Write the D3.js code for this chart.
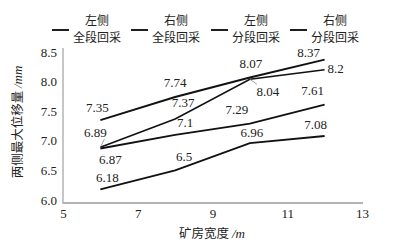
<!DOCTYPE html>
<html>
<head>
<meta charset="utf-8">
<script src="https://cdn.jsdelivr.net/npm/d3@7"></script>
<style>
  body { margin: 0; background: #fff; }
  svg { display: block; }
  .num { font-family: "Liberation Serif", "DejaVu Serif", serif; font-size: 13px; fill: #222; }
  .cjk { font-family: "Noto Sans CJK SC", sans-serif; font-size: 12.5px; fill: #222; }
  .leg { font-family: "Noto Sans CJK SC", sans-serif; font-size: 12px; fill: #222; }
</style>
</head>
<body>
<svg id="chart" width="393" height="245"></svg>
<script>
// chart data
const widths = [6, 8, 10, 12];
const seriesNames = [['左侧', '全段回采'], ['右侧', '全段回采'], ['左侧', '分段回采'], ['右侧', '分段回采']];
const leftFull = [7.35, 7.74, 8.07, 8.37];
const rightFull = [6.89, 7.37, 8.04, 8.2];
const leftSeg = [6.87, 7.1, 7.29, 7.61];
const rightSeg = [6.18, 6.5, 6.96, 7.08];
const xTicks = [5, 7, 9, 11, 13];
const yTicks = [6.0, 6.5, 7.0, 7.5, 8.0, 8.5];

// label offsets from the point (label centre), per series
const labelOffsets = [
  [[-3, -13], [0, -14], [1, -14], [-16, -7]],
  [[-5, -15], [8, -16], [18, 12], [11, -1]],
  [[10, 11], [10, -12], [-13, -14], [-12, -14]],
  [[7, -12], [9, -14], [2, -11], [-9, -12]]
];
// small pointer lines for crowded labels: [series, index, dx, dy]
const leaders = [[1, 0, 4, -8], [1, 2, 7, 5]];

const svg = d3.select('#chart');
const x = d3.scaleLinear().domain([5, 13]).range([63, 362]);
const y = d3.scaleLinear().domain([6, 8.5]).range([200, 52]);
const fmt = d3.format('.1f');

// axes
const axisColor = '#b3b3b3';
const gx = svg.append('g').attr('transform', 'translate(0,203)')
  .call(d3.axisBottom(x).tickValues(xTicks).tickSize(0).tickPadding(6).tickFormat(d3.format('d')));
gx.select('.domain').attr('d', 'M63,0H363').attr('stroke', axisColor).attr('stroke-width', 2);
gx.selectAll('text').attr('class', 'num').attr('font-family', null).attr('font-size', null);

const gy = svg.append('g').attr('transform', 'translate(63,0)')
  .call(d3.axisLeft(y).tickValues(yTicks).tickSize(0).tickPadding(6).tickFormat(fmt));
gy.select('.domain').attr('d', 'M0,48V204').attr('stroke', axisColor).attr('stroke-width', 1.5);
gy.selectAll('text').attr('class', 'num').attr('font-family', null).attr('font-size', null);

// axis titles
const xt = svg.append('text').attr('x', 212).attr('y', 238).attr('text-anchor', 'middle').attr('class', 'cjk');
xt.append('tspan').text('矿房宽度 ');
xt.append('tspan').attr('class', 'num').attr('font-style', 'italic').text('/m');

const yt = svg.append('text').attr('class', 'cjk').attr('text-anchor', 'middle')
  .attr('transform', 'translate(22,122) rotate(-90)');
yt.append('tspan').text('两侧最大位移量 ');
yt.append('tspan').attr('class', 'num').attr('font-style', 'italic').text('/mm');

// lines
const allSeries = [leftFull, rightFull, leftSeg, rightSeg];
const line = d3.line().x((d, i) => x(widths[i])).y(d => y(d));
svg.append('g').selectAll('path').data(allSeries).join('path')
  .attr('d', line)
  .attr('fill', 'none')
  .attr('stroke', '#111')
  .attr('stroke-width', (d, i) => (i === 1 ? 1.6 : 1.9));

// leader lines
leaders.forEach(([s, i, dx, dy]) => {
  const px = x(widths[i]);
  const py = y(allSeries[s][i]);
  svg.append('line')
    .attr('x1', px).attr('y1', py)
    .attr('x2', px + dx).attr('y2', py + dy)
    .attr('stroke', '#888').attr('stroke-width', 0.8);
});

// value labels
allSeries.forEach((vals, s) => {
  vals.forEach((v, i) => {
    const [dx, dy] = labelOffsets[s][i];
    svg.append('text')
      .attr('class', 'num')
      .attr('x', x(widths[i]) + dx)
      .attr('y', y(v) + dy)
      .attr('text-anchor', 'middle')
      .attr('dominant-baseline', 'central')
      .text(String(v));
  });
});

// legend
const legendX = [52, 131, 211, 290];
const legend = svg.append('g').selectAll('g').data(seriesNames).join('g')
  .attr('transform', (d, i) => `translate(${legendX[i]},0)`);
legend.append('line')
  .attr('x1', 0).attr('x2', 17).attr('y1', 30).attr('y2', 30)
  .attr('stroke', '#111').attr('stroke-width', 1.9);
legend.append('text').attr('class', 'leg').attr('x', 45).attr('y', 25)
  .attr('text-anchor', 'middle').text(d => d[0]);
legend.append('text').attr('class', 'leg').attr('x', 45).attr('y', 42)
  .attr('text-anchor', 'middle').text(d => d[1]);
</script>
</body>
</html>
